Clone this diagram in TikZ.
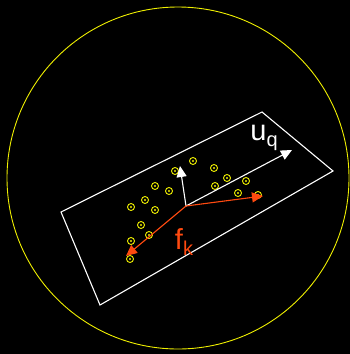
\documentclass[tikz,border=0pt]{standalone}
\usepackage{fontspec}
\setmainfont{Liberation Sans}
\usetikzlibrary{arrows.meta}
\definecolor{dotyellow}{HTML}{F0F000}
\definecolor{vecorange}{HTML}{FF4A10}
\newcommand{\lowsub}[1]{\raisebox{-0.35ex}{\fontsize{20}{20}\selectfont #1}}

\begin{document}
\begin{tikzpicture}[x=1pt, y=-1pt, >={Triangle[length=11pt,width=10pt]}, line cap=round,
  sample/.style={draw=dotyellow, line width=0.9pt, circle, inner sep=0pt, minimum size=7pt},
  vec/.style={->, line width=1.1pt}]
\fill[black] (0,0) rectangle (350,354);
\useasboundingbox (0,0) rectangle (350,354);
% 外圆
\draw[dotyellow, line width=0.9pt] (178,178) circle (171);
% 平面
\draw[white, line width=1.1pt] (61,212) -- (262,112) -- (333,171) -- (100,305) -- cycle;
% 样本点
\foreach \x/\y [count=\i] in {193/161, 175/171, 214/168, 227/178, 246/181, 215/186,
    238/193, 258/195, 155/186, 169/191, 145/200, 131/207, 155/210, 141/225,
    149/235, 131/241, 130/259} {
  \node[sample] (s\i) at (\x,\y) {};
  \fill[dotyellow] (s\i) circle (1.1pt);
}
% 基向量
\coordinate (O) at (186,206);
\coordinate (up) at (180,166);
\coordinate (uq) at (292,150);
\draw[vec, white] (O) -- (up);
\draw[vec, white] (O) -- (uq);
\node[white, font=\fontsize{29}{29}\selectfont] (ulab) at (264,138) {u\lowsub{q}};
% 特征向量
\coordinate (fr) at (263,196);
\coordinate (fl) at (126,256);
\draw[vec, vecorange] (O) -- (fr);
\draw[vec, vecorange] (O) -- (fl);
\node[vecorange, font=\fontsize{29}{29}\selectfont] (flab) at (184,242) {f\lowsub{k}};
\end{tikzpicture}
\end{document}
